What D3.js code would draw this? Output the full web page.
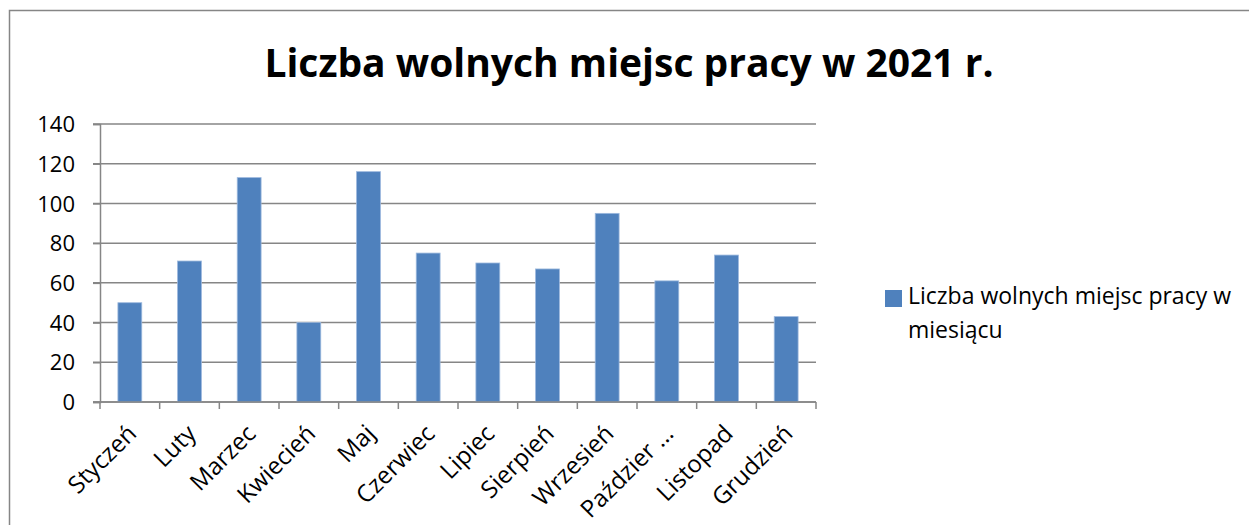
<!DOCTYPE html>
<html>
<head>
<meta charset="utf-8">
<script src="https://cdn.jsdelivr.net/npm/d3@7"></script>
<style>
  html, body { margin: 0; padding: 0; background: #fff; }
  text { font-family: "Open Sans", "Noto Sans", sans-serif; fill: #000; }
</style>
</head>
<body>
<div class="chart"></div>
<script>
// monthly job vacancies chart
var w = 1249, h = 525;

var months = ['Styczeń', 'Luty', 'Marzec', 'Kwiecień', 'Maj', 'Czerwiec', 'Lipiec',
              'Sierpień', 'Wrzesień', 'Paździer …', 'Listopad', 'Grudzień'];
var vacancies = [50, 71, 113, 40, 116, 75, 70, 67, 95, 61, 74, 43];
var yTicks = [0, 20, 40, 60, 80, 100, 120, 140];
var title = 'Liczba wolnych miejsc pracy w 2021 r.';
var seriesName = ['Liczba wolnych miejsc pracy w', 'miesiącu'];

var margin = {left: 100, top: 124, right: 816, bottom: 402};

var svg = d3.select('.chart').append('svg')
  .attr('width', w)
  .attr('height', h)

// outer frame, runs off the right and bottom edge like the original
svg.append('rect')
  .attr('x', 9.5).attr('y', 10.5)
  .attr('width', w).attr('height', h)
  .attr('fill', 'none')
  .attr('stroke', '#868686')
  .attr('stroke-width', 1.5)

svg.append('text')
  .attr('x', 629).attr('y', 77)
  .attr('text-anchor', 'middle')
  .style('font-size', '39px')
  .style('font-weight', 'bold')
  .text(title)

var x = d3.scaleBand()
  .domain(months)
  .range([margin.left, margin.right])
  .paddingInner(0.6)
  .paddingOuter(0.3)

var xb = d3.scaleBand().domain(months).range([margin.left, margin.right])

var y = d3.scaleLinear()
  .domain([0, 140])
  .range([margin.bottom, margin.top])

// gridlines
svg.append('g')
  .selectAll('line')
  .data(yTicks)
  .enter().append('line')
    .attr('x1', margin.left - 7)
    .attr('x2', margin.right)
    .attr('y1', function(d) { return y(d); })
    .attr('y2', function(d) { return y(d); })
    .attr('stroke', '#868686')
    .attr('stroke-width', 1.5)

// y axis
var yAxis = svg.append('g')
  .attr('transform', 'translate(' + margin.left + ',0)')
  .call(d3.axisLeft(y).tickValues(yTicks).tickSize(7).tickPadding(18))
yAxis.select('.domain').attr('stroke', '#868686').attr('stroke-width', 1.5)
yAxis.selectAll('.tick line').attr('stroke', '#868686').attr('stroke-width', 1.5)
yAxis.selectAll('.tick text').style('font-size', '22px').attr('dy', '0.35em')

// x axis ticks at band edges
var edges = months.map(function(m) { return xb(m); }).concat([margin.right]);
svg.append('g')
  .selectAll('line')
  .data(edges)
  .enter().append('line')
    .attr('x1', function(d) { return d; })
    .attr('x2', function(d) { return d; })
    .attr('y1', margin.bottom)
    .attr('y2', margin.bottom + 7)
    .attr('stroke', '#868686')
    .attr('stroke-width', 1.5)

// bars
svg.append('g')
  .selectAll('rect')
  .data(vacancies)
  .enter().append('rect')
    .attr('x', function(d, i) { return x(months[i]); })
    .attr('y', function(d) { return y(d); })
    .attr('width', x.bandwidth())
    .attr('height', function(d) { return y(0) - y(d); })
    .attr('fill', '#4F81BD')
    .attr('stroke', '#9DB9DE')
    .attr('stroke-width', 0.8)

svg.append('line')
  .attr('x1', margin.left - 7).attr('x2', margin.right)
  .attr('y1', margin.bottom).attr('y2', margin.bottom)
  .attr('stroke', '#868686')
  .attr('stroke-width', 1.5)

// rotated month labels
svg.append('g')
  .selectAll('text')
  .data(months)
  .enter().append('text')
    .attr('text-anchor', 'end')
    .style('font-size', '24px')
    .attr('transform', function(d) {
      var cx = xb(d) + xb.bandwidth() / 2 + 8
      return 'translate(' + [cx, 435] + ') rotate(-45)'
    })
    .text(function(d) { return d; })

// legend
var lg = svg.append('g').attr('transform', 'translate(885,290)')
lg.append('rect')
  .attr('width', 17).attr('height', 17)
  .attr('fill', '#4F81BD')
lg.selectAll('text')
  .data(seriesName)
  .enter().append('text')
    .attr('x', 23)
    .attr('y', function(d, i) { return 14 + i * 34; })
    .style('font-size', '23px')
    .text(function(d) { return d; })
</script>
</body>
</html>
